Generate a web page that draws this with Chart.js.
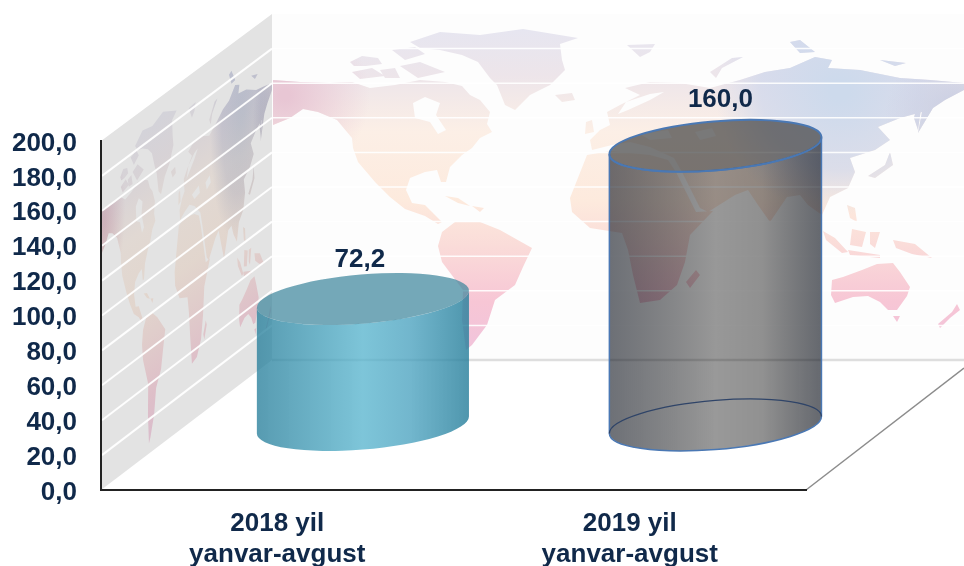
<!DOCTYPE html>
<html><head><meta charset="utf-8">
<style>html,body{margin:0;padding:0;background:#fff}canvas{display:block}</style>
<script src="https://cdn.jsdelivr.net/npm/chart.js@4"></script>
</head><body><canvas id="c" width="964" height="566"></canvas>
<script>
// ---- data ----
const categories = [["2018 yil","yanvar-avgust"],["2019 yil","yanvar-avgust"]];
const values = [72.2, 160.0];
const yMin = 0, yMax = 200, yStep = 20;

// ---- decoration: the simplified world map printed on the chart walls ----
const LAND = [
 [[273,80],[300,82],[330,83],[352,82],[370,88],[395,85],[420,80],[445,82],[462,86],[470,95],[480,100],[490,112],[487,124],[492,132],[480,138],[472,148],[462,155],[450,167],[446,182],[441,182],[437,170],[425,172],[410,178],[406,190],[412,203],[425,205],[432,212],[442,222],[438,224],[425,216],[405,209],[390,197],[375,182],[358,162],[353,148],[352,138],[337,120],[318,112],[303,109],[290,118],[273,125]],
 [[410,42],[440,32],[480,35],[523,29],[578,38],[560,44],[562,60],[565,70],[550,85],[530,95],[515,110],[505,105],[497,85],[490,78],[478,62],[462,55],[440,50],[420,48]],
 [[350,62],[362,56],[378,58],[382,64],[366,66],[354,66]],[[352,72],[372,68],[385,76],[360,79]],[[392,50],[415,47],[425,54],[405,60]],[[400,66],[420,62],[445,72],[418,78]],[[380,70],[395,68],[400,78],[385,78]],
 [[442,232],[455,222],[480,222],[500,230],[532,248],[523,267],[515,285],[495,300],[487,325],[472,345],[466,350],[462,320],[463,290],[442,262],[438,246]],
 [[445,196],[458,198],[470,206],[458,203]],[[472,206],[484,208],[480,212]],
 [[587,155],[610,151],[650,155],[668,160],[676,172],[696,212],[713,211],[690,235],[685,262],[677,285],[660,300],[640,303],[633,275],[628,250],[622,233],[590,228],[572,212],[570,198]],
 [[696,270],[700,275],[690,288],[686,282]],
 [[592,150],[590,140],[600,130],[610,125],[607,112],[620,105],[640,95],[625,88],[650,82],[680,83],[710,88],[740,80],[765,72],[790,68],[815,57],[832,60],[828,68],[860,70],[900,78],[930,80],[964,83],[964,90],[945,100],[933,108],[918,133],[922,112],[900,118],[878,127],[890,140],[875,150],[850,158],[855,172],[848,188],[830,197],[822,215],[808,205],[800,195],[787,197],[770,222],[758,205],[748,190],[735,195],[708,212],[700,208],[682,172],[674,158],[650,147],[630,142],[612,145]],
 [[710,72],[732,58],[743,57],[722,68],[716,78]],
 [[627,45],[655,44],[650,52],[640,57]],[[790,42],[800,40],[815,52],[800,53]],[[880,60],[906,63],[895,66]],
 [[555,95],[572,93],[575,100],[562,102]],[[586,122],[592,120],[594,132],[585,134]],
 [[890,152],[893,165],[875,178],[868,176],[885,165]],[[914,118],[918,100],[922,102],[918,130]],
 [[847,205],[855,208],[857,222],[850,218]],
 [[823,231],[835,238],[848,252],[842,253],[826,240]],[[848,250],[880,255],[880,258],[850,255]],[[852,229],[866,232],[862,247],[850,245]],[[870,232],[880,232],[875,248],[870,244]],[[893,240],[915,244],[932,258],[912,254],[896,248]],
 [[832,280],[843,277],[862,270],[877,264],[893,263],[900,272],[910,287],[907,296],[897,310],[888,310],[880,302],[868,296],[853,297],[835,303],[831,295]],
 [[893,316],[900,316],[897,322]],[[957,304],[960,310],[950,318],[940,328],[938,324],[952,312]]
];
const WATER = [
 [[413,103],[425,97],[440,103],[436,115],[446,130],[438,134],[430,122],[415,118]],
 [[650,100],[628,110],[618,114],[626,102],[650,94],[664,92]],
 [[640,134],[668,130],[672,138],[650,140]],
 [[695,132],[712,128],[716,136],[700,140]]
];
const BACK_WALL = [[272,14],[964,14],[964,360],[272,360]];

const TOP_OFFSETS = [[-3,-39],[5,-46]]; // value-label nudges from the cylinder top
const CYL = [
 {stops:[[0,'rgba(40,127,155,.78)'],[.5,'rgba(85,179,205,.76)'],[.72,'rgba(70,160,190,.76)'],[1,'rgba(40,127,155,.82)']], top:'rgba(62,135,156,.72)', line:null},
 {stops:[[0,'rgba(20,25,35,.62)'],[.5,'rgba(0,0,0,.40)'],[.72,'rgba(0,0,0,.43)'],[1,'rgba(15,20,30,.64)']], top:'rgba(58,58,58,.68)', line:'#4a78b4'}
];
const A=106.4,B=24.5,ROT=-4.8*Math.PI/180;
const T0=Math.atan(-(B/A)*Math.tan(ROT));

function area(p){let s=0;p.forEach((q,i)=>{const n=p[(i+1)%p.length];s+=q[0]*n[1]-n[0]*q[1];});return s;}
function addPoly(ctx,p,wind){
  const pts=(area(p)*wind<0)?p.slice().reverse():p;
  pts.forEach((q,i)=>i?ctx.lineTo(q[0],q[1]):ctx.moveTo(q[0],q[1]));ctx.closePath();
}
function paintLand(ctx){
  ctx.save();
  ctx.beginPath();
  LAND.forEach(p=>addPoly(ctx,p,1));
  WATER.forEach(p=>addPoly(ctx,p,-1));
  ctx.clip('nonzero');
  const g=ctx.createLinearGradient(0,25,0,340);
  g.addColorStop(0,'#e6e6f1');g.addColorStop(.16,'#ede5ea');g.addColorStop(.34,'#fcefe6');
  g.addColorStop(.56,'#fdeadd');g.addColorStop(.7,'#fadcd9');g.addColorStop(.88,'#f7c6d5');g.addColorStop(1,'#f2c4da');
  ctx.fillStyle=g;ctx.fillRect(272,14,692,346);
  let r=ctx.createRadialGradient(285,95,5,285,95,85);
  r.addColorStop(0,'rgba(232,198,212,1)');r.addColorStop(1,'rgba(232,198,212,0)');
  ctx.fillStyle=r;ctx.fillRect(272,14,692,346);
  r=ctx.createRadialGradient(840,90,10,840,90,125);
  r.addColorStop(0,'rgba(205,218,236,1)');r.addColorStop(.6,'rgba(208,216,236,.75)');r.addColorStop(1,'rgba(208,216,236,0)');
  ctx.fillStyle=r;ctx.fillRect(272,14,692,346);
  r=ctx.createRadialGradient(960,115,5,960,115,75);
  r.addColorStop(0,'rgba(198,204,226,1)');r.addColorStop(1,'rgba(198,204,226,0)');
  ctx.fillStyle=r;ctx.fillRect(272,14,692,346);
  ctx.restore();
}

const walls={id:'walls',beforeDraw(chart){
  const ctx=chart.ctx,y=chart.scales.y,L=chart.chartArea.left,R=chart.chartArea.right;
  const top=y.getPixelForValue(yMax),bot=y.getPixelForValue(yMin);
  const bx=272, dyT=top-BACK_WALL[0][1], dyB=bot-BACK_WALL[3][1];
  ctx.save();
  ctx.fillStyle='#fdfdfd';ctx.fillRect(bx,14,692,346);
  paintLand(ctx);
  ctx.beginPath();ctx.moveTo(L,top);ctx.lineTo(bx,14);ctx.lineTo(bx,360);ctx.lineTo(L,bot);ctx.closePath();
  ctx.fillStyle='#e3e3e3';ctx.fill();
  ctx.save();ctx.clip();
  ctx.globalCompositeOperation='multiply';
  ctx.globalAlpha=.72;
  const sx=(bx-L)/692, sh=-dyB/692;
  ctx.transform(sx,sh,0,1,L-272*sx,dyB-272*sh);
  paintLand(ctx);
  ctx.restore();
  for(let v=yMin+yStep;v<yMax;v+=yStep){
    const p=y.getPixelForValue(v), q=p-(dyT+(dyB-dyT)*(yMax-v)/(yMax-yMin));
    ctx.strokeStyle='rgba(255,255,255,.95)';ctx.lineWidth=2;
    ctx.beginPath();ctx.moveTo(L+1,p);ctx.lineTo(bx,q);ctx.stroke();
    ctx.lineWidth=1.5;ctx.strokeStyle='rgba(255,255,255,.9)';
    ctx.beginPath();ctx.moveTo(bx,q);ctx.lineTo(964,q);ctx.stroke();
  }
  ctx.strokeStyle='#dedede';ctx.lineWidth=2.5;
  ctx.beginPath();ctx.moveTo(bx,360);ctx.lineTo(964,360);ctx.stroke();
  ctx.strokeStyle='#8c8c8c';ctx.lineWidth=1.5;
  ctx.beginPath();ctx.moveTo(R,bot);ctx.lineTo(964,368);ctx.stroke();
  ctx.restore();
}};

function drawCylinder(ctx,el,s){
  const x=el.x,ty=el.y,by=el.base,l=x-el.width/2,r=x+el.width/2;
  ctx.save();
  const g=ctx.createLinearGradient(l,0,r,0);
  s.stops.forEach(a=>g.addColorStop(a[0],a[1]));
  ctx.beginPath();
  ctx.ellipse(x,ty,A,B,ROT,T0+Math.PI,T0,true);
  ctx.ellipse(x,by,A,B,ROT,T0,T0+Math.PI,false);
  ctx.closePath();
  ctx.fillStyle=g;ctx.fill();
  if(s.line){ctx.strokeStyle=s.line;ctx.lineWidth=1.5;ctx.stroke();}
  ctx.beginPath();ctx.ellipse(x,ty,A,B,ROT,0,Math.PI*2);
  ctx.fillStyle=s.top;ctx.fill();
  if(s.line){
    ctx.strokeStyle=s.line;ctx.lineWidth=2;ctx.stroke();
    ctx.beginPath();ctx.ellipse(x,by,A,B,ROT,T0+Math.PI,T0,false);
    ctx.strokeStyle='#2f4468';ctx.lineWidth=1.2;ctx.stroke();
  }
  ctx.restore();
}

const INK='#10294a';
const FONT='bold 26px "Liberation Sans", Arial, sans-serif';
const tickFont={family:'"Liberation Sans", Arial, sans-serif',size:26,weight:'bold',lineHeight:1.2};
const axisLine={display:true,color:'#222',width:2};

const cylinders={id:'cylinders',
 afterDatasetsUpdate(chart){
  chart.getDatasetMeta(0).data.forEach((el,i)=>{el.draw=function(ctx){drawCylinder(ctx,this,CYL[i]);};});
 },
 afterDatasetsDraw(chart){
  const ctx=chart.ctx;
  ctx.save();ctx.fillStyle=INK;ctx.font=FONT;ctx.textAlign='center';ctx.textBaseline='middle';
  chart.getDatasetMeta(0).data.forEach((el,i)=>{
    ctx.fillText(values[i].toFixed(1).replace('.',','),el.x+TOP_OFFSETS[i][0],el.y+TOP_OFFSETS[i][1]);
  });
  ctx.restore();
 }};

new Chart(document.getElementById('c'),{
 type:'bar',
 data:{labels:categories,datasets:[{label:'yanvar-avgust',data:values.map((v,i)=>({x:i,y:v})),xAxisID:'x2',yAxisID:'y2',barThickness:212,backgroundColor:'#80c6da',clip:false}]},
 plugins:[walls,cylinders],
 options:{
  responsive:false,animation:false,
  layout:{padding:{top:141,right:158,left:0,bottom:0}},
  plugins:{legend:{display:false},tooltip:{enabled:false}},
  scales:{
   x:{type:'category',offset:true,grid:{display:false},border:axisLine,
      ticks:{color:INK,font:tickFont,padding:10,maxRotation:0,autoSkip:false},
      afterFit(s){s.height=76;}},
   y:{type:'linear',position:'left',min:yMin,max:yMax,grid:{display:false},border:axisLine,
      ticks:{stepSize:yStep,autoSkip:false,color:INK,font:tickFont,padding:16,callback:v=>v.toFixed(1).replace('.',',')},
      afterFit(s){
        s.width=101;
        if(!s._nudged){
          const f=s._computeLabelItems.bind(s);
          s._computeLabelItems=ca=>{const it=f(ca);it.forEach(t=>{t.options.translation[1]+=2.5;});return it;};
          s._nudged=true;
        }
      }},
   // the cylinders stand on the floor, set back from the axes: same unit sizes, shifted origin
   x2:{type:'linear',display:false,offset:false,min:-0.743,max:1.257},
   y2:{type:'linear',display:false,min:-37.25,max:162.75}
  }
 }
});
</script></body></html>
